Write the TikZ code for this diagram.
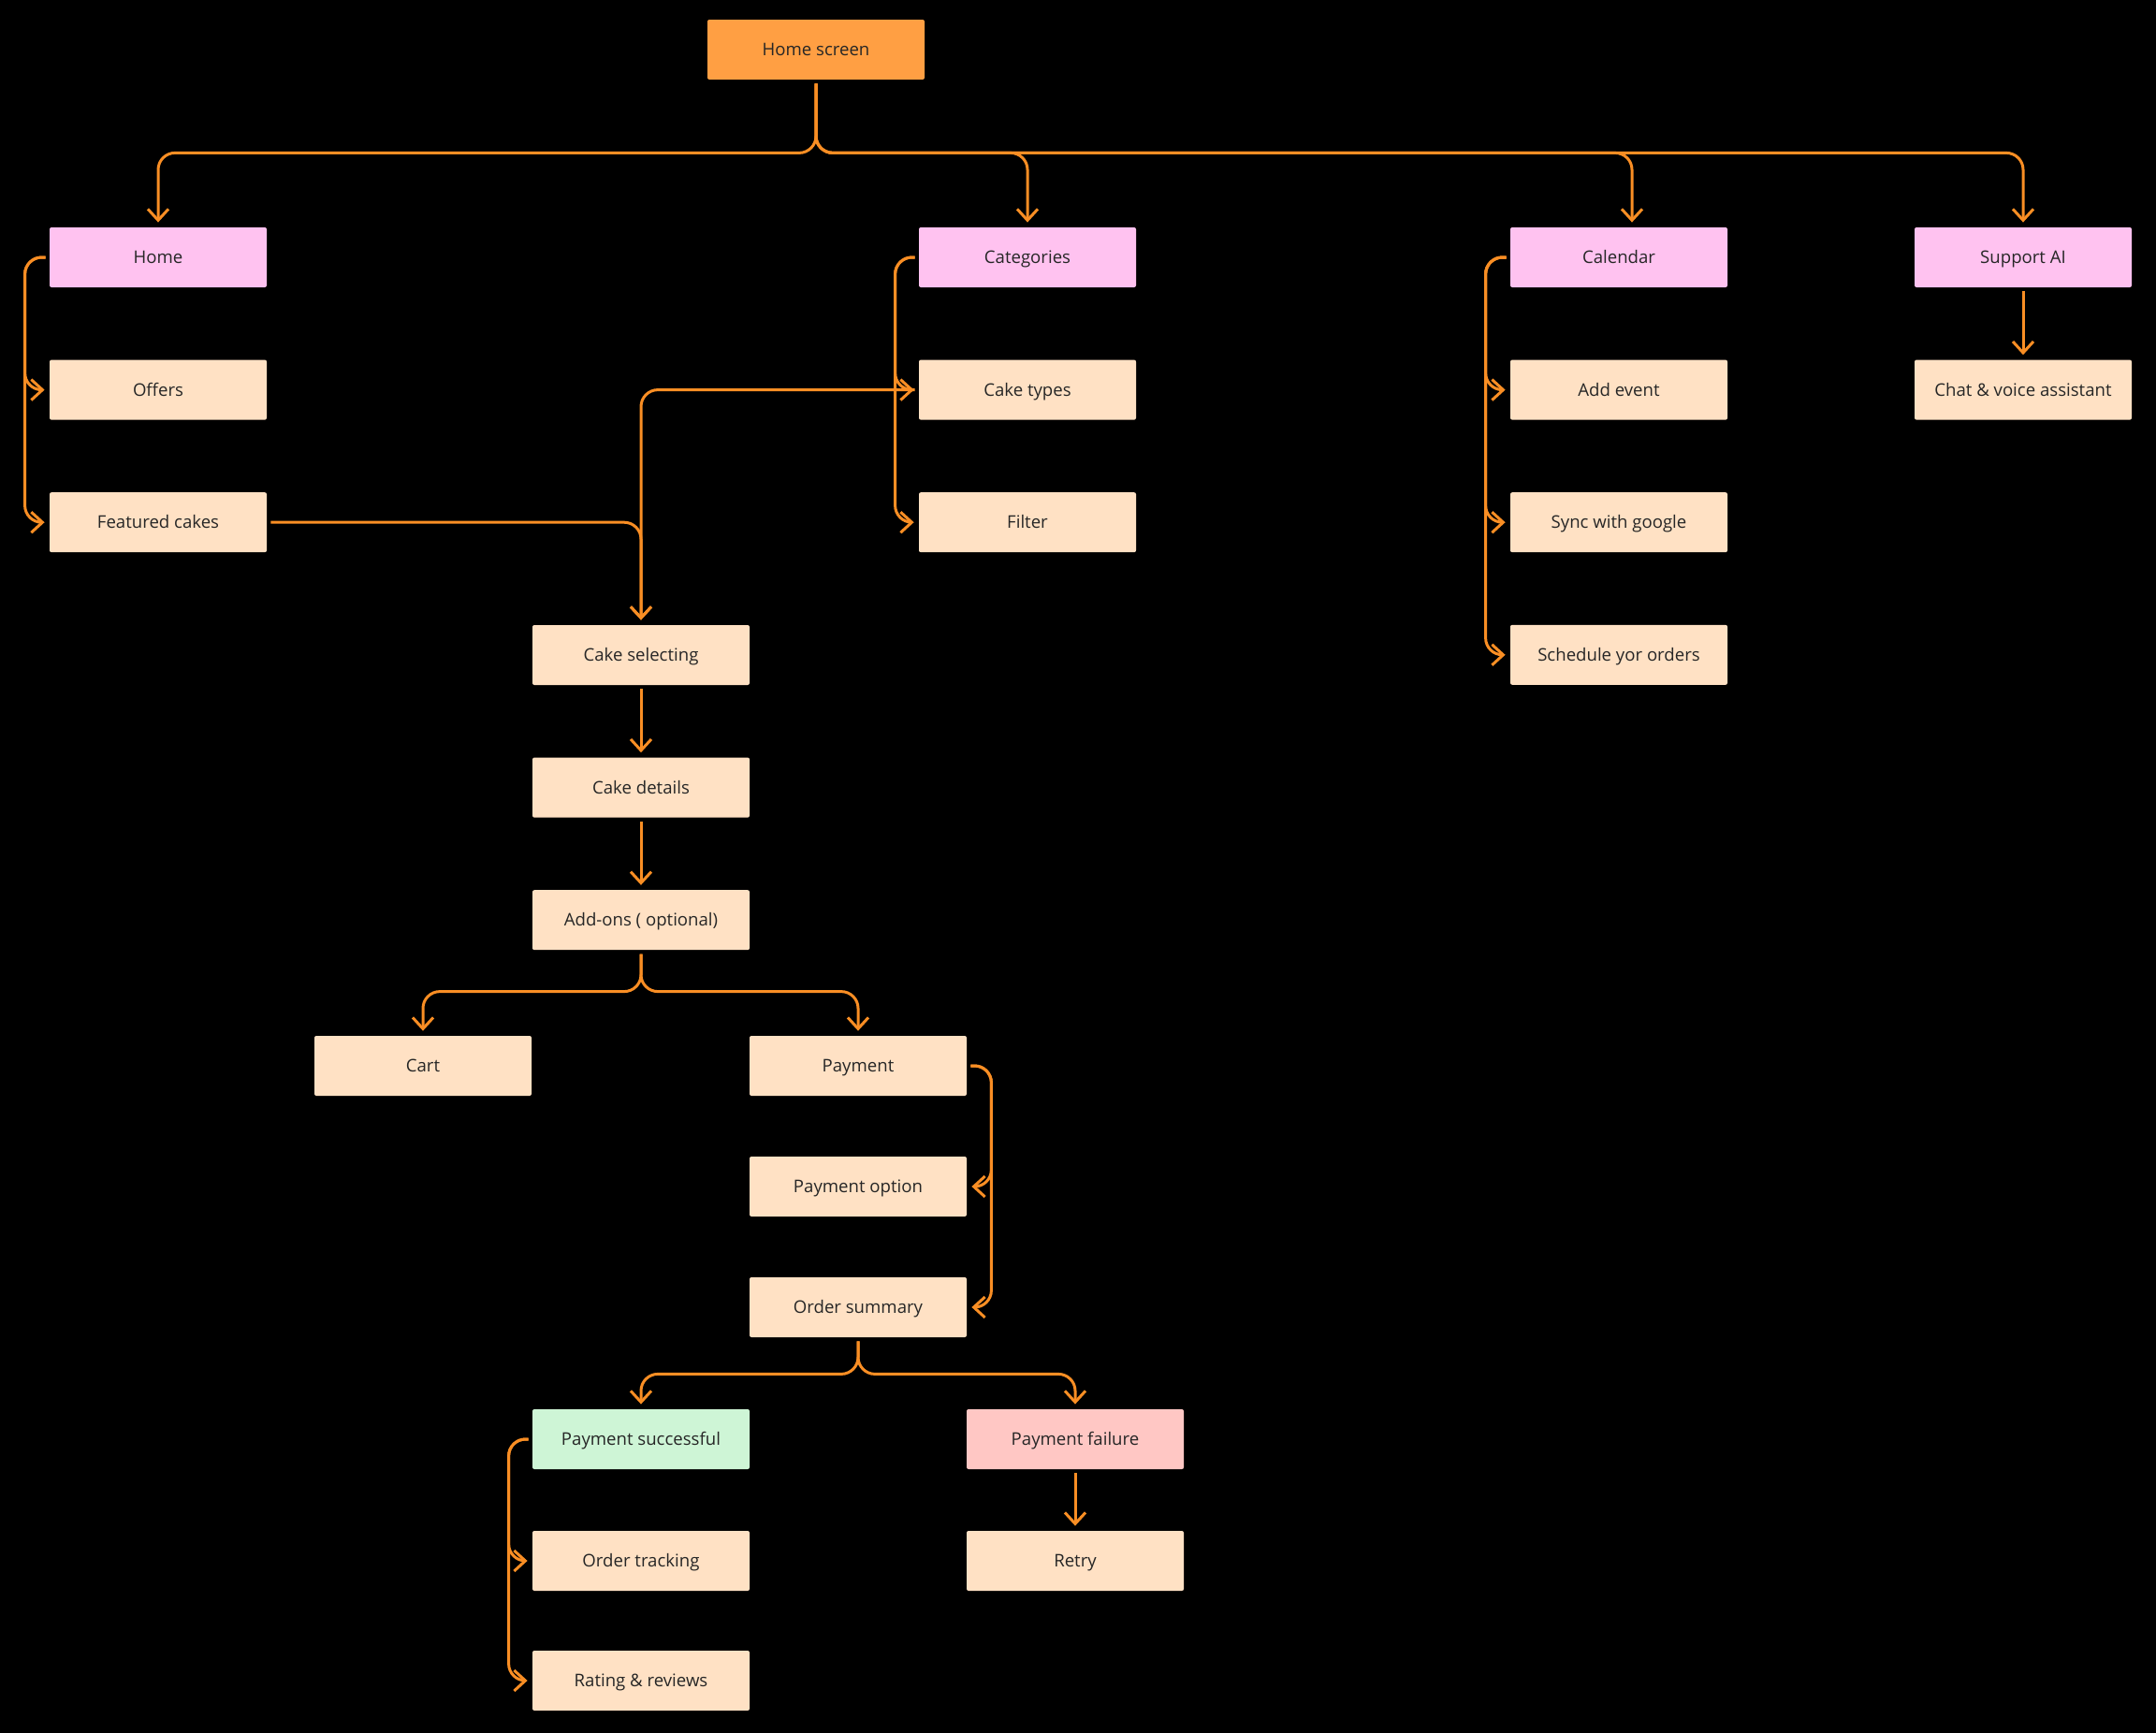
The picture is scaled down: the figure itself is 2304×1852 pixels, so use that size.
\documentclass[tikz,border=0pt]{standalone}
\usepackage{fontspec}
\setmainfont{Open Sans}
\usetikzlibrary{positioning,arrows.meta}

\definecolor{flowline}{HTML}{F98E24}
\definecolor{rootfill}{HTML}{FF9F43}
\definecolor{sectfill}{HTML}{FFC2F0}
\definecolor{pagefill}{HTML}{FFE1C4}
\definecolor{okfill}{HTML}{CEF5D6}
\definecolor{failfill}{HTML}{FFC7C4}
\definecolor{boxtext}{HTML}{262626}

\begin{document}
\begin{tikzpicture}[x=0.5pt, y=-0.5pt, on grid, node distance=70.8pt,
    box/.style={rectangle, rounded corners=1pt, minimum width=116pt, minimum height=32pt,
        inner sep=0pt, text height=6.65pt, text depth=0pt, text=boxtext,
        font=\fontsize{9.3}{11}\selectfont},
    screen/.style={box, fill=rootfill},
    section/.style={box, fill=sectfill},
    page/.style={box, fill=pagefill},
    success/.style={box, fill=okfill},
    failure/.style={box, fill=failfill},
    link/.style={draw=flowline, line width=1.5pt, rounded corners=9pt,
        -{Straight Barb[length=6pt,width=11pt]}, shorten >=2.5pt, shorten <=2pt}]
    \fill[black] (0,0) rectangle (2304,1852);
    \useasboundingbox (0,0) rectangle (2304,1852);

    % top level
    \node[screen]  (homescreen) at (872,53)  {Home screen};
    \node[section] (home)       at (169,275)  {Home};
    \node[section] (categories) at (1098,275) {Categories};
    \node[section] (calendar)   at (1730,275) {Calendar};
    \node[section] (support)    at (2162,275) {Support AI};

    % sections
    \node[page] (offers)    [below=of home]       {Offers};
    \node[page] (featured)  [below=of offers]     {Featured cakes};
    \node[page] (caketypes) [below=of categories] {Cake types};
    \node[page] (filter)    [below=of caketypes]  {Filter};
    \node[page] (addevent)  [below=of calendar]   {Add event};
    \node[page] (sync)      [below=of addevent]   {Sync with google};
    \node[page] (schedule)  [below=of sync]       {Schedule yor orders};
    \node[page] (chat)      [below=of support]    {Chat \& voice assistant};

    % ordering
    \node[page] (selecting) at (685,700)          {Cake selecting};
    \node[page] (details)   [below=of selecting]  {Cake details};
    \node[page] (addons)    [below=of details]    {Add-ons ( optional)};
    \node[page] (cart)      at (452,1139)         {Cart};
    \node[page] (payment)   at (917,1139)         {Payment};
    \node[page] (payoption) [below=64.5pt of payment]   {Payment option};
    \node[page] (summary)   [below=64.5pt of payoption] {Order summary};
    \node[success] (paysuccess) at (685,1538)  {Payment successful};
    \node[failure] (payfail)    at (1149,1538) {Payment failure};
    \node[page] (tracking)  [below=65pt of paysuccess] {Order tracking};
    \node[page] (rating)    [below=64pt of tracking]   {Rating \& reviews};
    \node[page] (retry)     [below=65pt of payfail]    {Retry};

    \path[link] (homescreen.south) -- ++(0,78) -| (home.north);
    \path[link] (homescreen.south) -- ++(0,78) -| (categories.north);
    \path[link] (homescreen.south) -- ++(0,78) -| ([xshift=7pt]calendar.north);
    \path[link] (homescreen.south) -- ++(0,78) -| (support.north);

    \path[link] (home.west) -- ++(-26,0) |- (offers.west);
    \path[link] (home.west) -- ++(-26,0) |- (featured.west);
    \path[link] (categories.west) -- ++(-25,0) |- (caketypes.west);
    \path[link] (categories.west) -- ++(-25,0) |- (filter.west);
    \path[link] (calendar.west) -- ++(-26,0) |- (addevent.west);
    \path[link] (calendar.west) -- ++(-26,0) |- (sync.west);
    \path[link] (calendar.west) -- ++(-26,0) |- (schedule.west);
    \path[link] (support.south) -- (chat.north);

    \path[link] (caketypes.west) -| (selecting.north);
    \path[link] (featured.east) -| (selecting.north);
    \path[link] (selecting.south) -- (details.north);
    \path[link] (details.south) -- (addons.north);
    \path[link] (addons.south) -- ++(0,44) -| (cart.north);
    \path[link] (addons.south) -- ++(0,44) -| (payment.north);

    \path[link] (payment.east) -- ++(26,0) |- (payoption.east);
    \path[link] (payment.east) -- ++(26,0) |- (summary.east);
    \path[link] (summary.south) -- ++(0,39) -| (paysuccess.north);
    \path[link] (summary.south) -- ++(0,39) -| (payfail.north);
    \path[link] (paysuccess.west) -- ++(-25,0) |- (tracking.west);
    \path[link] (paysuccess.west) -- ++(-25,0) |- (rating.west);
    \path[link] (payfail.south) -- (retry.north);
\end{tikzpicture}
\end{document}
